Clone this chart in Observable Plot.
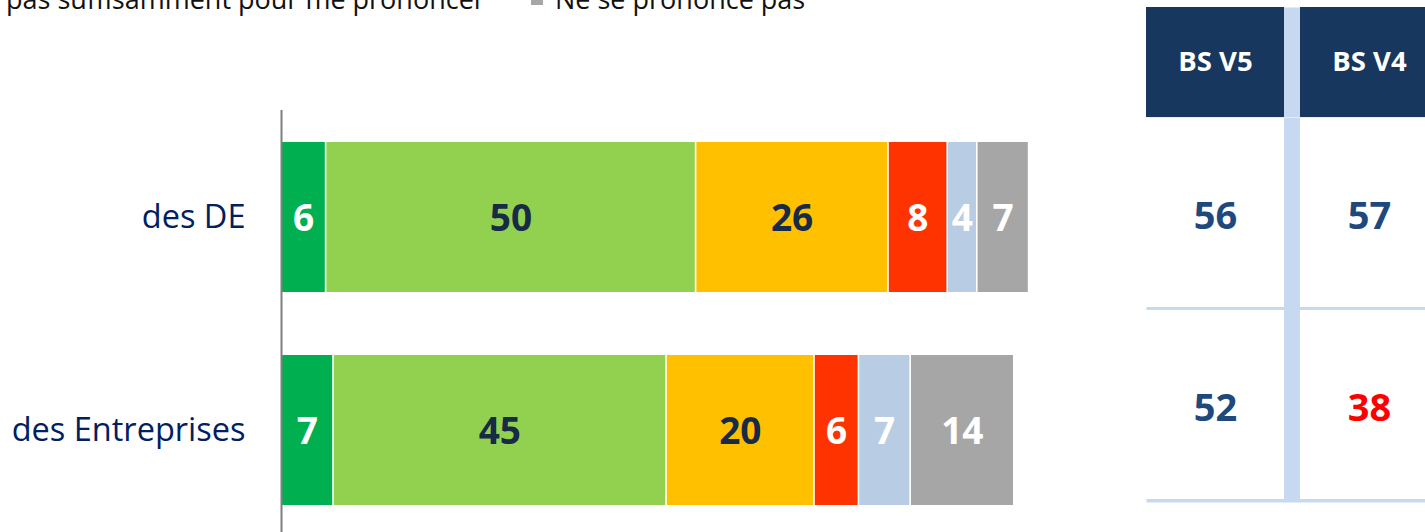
<!DOCTYPE html>
<html>
<head>
<meta charset="utf-8">
<script src="https://cdn.jsdelivr.net/npm/d3@7"></script>
<script src="https://cdn.jsdelivr.net/npm/@observablehq/plot@0.6"></script>
<style>
  html, body { margin: 0; padding: 0; background: #fff; overflow: hidden; }
  #wrap { position: relative; width: 1425px; height: 532px; overflow: hidden; font-family: "Open Sans", sans-serif; }
  #wrap > div, #wrap > svg, #wrap > span { position: absolute; }
  .leg { font-size: 27px; line-height: 27px; color: #111; white-space: nowrap; }
</style>
</head>
<body>
<div id="wrap"></div>
<script>
// ---- data ----
const categories = ["des DE", "des Entreprises"];
const series = [
  "Très satisfaisant",
  "Plutôt satisfaisant",
  "Plutôt pas satisfaisant",
  "Pas du tout satisfaisant",
  "Je ne connais pas suffisamment pour me prononcer",
  "Ne se prononce pas"
];
const valuesDE = [6, 50, 26, 8, 4, 7];
const valuesEntreprises = [7, 45, 20, 6, 7, 14];
const seriesColors = ["#00b050", "#92d050", "#ffc000", "#ff3300", "#b8cce4", "#a6a6a6"];
const labelColors = ["#ffffff", "#172a46", "#172a46", "#ffffff", "#ffffff", "#ffffff"];

const tableColumns = ["BS V5", "BS V4"];
const bsV5 = [56, 52];
const bsV4 = [57, 38];
const bsV4Flag = [false, true];

const legendText1 = "pas suffisamment pour me prononcer";
const legendText2 = "Ne se prononce pas";

// ---- derived tables ----
const rows = [valuesDE, valuesEntreprises];
const data = categories.flatMap((c, i) =>
  series.map((s, j) => ({cat: c, series: s, value: rows[i][j]}))
);
const tableData = categories.flatMap((c, i) => [
  {cat: c, col: tableColumns[0], value: bsV5[i], flag: false},
  {cat: c, col: tableColumns[1], value: bsV4[i], flag: bsV4Flag[i]}
]);

const wrap = document.getElementById("wrap");
const FONT = "Open Sans";

// ---- main bar chart ----
const chart = Plot.plot({
  width: 1140,
  height: 532,
  marginLeft: 282,
  marginRight: 118,
  marginTop: 110,
  marginBottom: 0,
  style: {fontFamily: FONT, background: "transparent"},
  x: {domain: [0, 100], axis: null},
  y: {domain: categories, range: [142, 505], paddingInner: 0.296, paddingOuter: 0, label: null},
  color: {domain: series, range: seriesColors},
  marks: [
    Plot.barX(data, Plot.stackX({x: "value", y: "cat", fill: "series", insetRight: 1.6, order: null})),
    Plot.text(data, Plot.stackX({
      x: "value", y: "cat", z: "series", order: null,
      text: d => String(d.value),
      fill: d => labelColors[series.indexOf(d.series)],
      fontSize: 37, fontWeight: "bold", fontFamily: FONT, dx: -1, dy: 2
    })),
    Plot.axisY({tickSize: 0, tickPadding: 37, fontSize: 32.5, fill: "#002060", label: null, fontFamily: FONT}),
    Plot.ruleX([0], {stroke: "#7f7f7f", strokeWidth: 2, dx: -1})
  ]
});
chart.style.left = "0px";
chart.style.top = "0px";
wrap.appendChild(chart);

// ---- table header ----
const colX = {domain: tableColumns, paddingInner: 16 / 154, paddingOuter: 0, axis: null};
const header = Plot.plot({
  width: 292, height: 117,
  marginTop: 7, marginBottom: 0, marginLeft: 0, marginRight: 0,
  style: {fontFamily: FONT, background: "transparent"},
  x: colX,
  marks: [
    Plot.frame({fill: "#c6d9f1", stroke: null}),
    Plot.cell(tableColumns, {x: d => d, fill: "#17375e"}),
    Plot.text(tableColumns, {x: d => d, text: d => d, fill: "#ffffff", fontSize: 27.5, fontWeight: "bold", fontFamily: FONT})
  ]
});
header.style.left = "1146px";
header.style.top = "0px";
wrap.appendChild(header);

// ---- table body ----
const body = Plot.plot({
  width: 292, height: 415,
  marginTop: 0, marginBottom: 30, marginLeft: 0, marginRight: 0,
  style: {fontFamily: FONT, background: "transparent"},
  x: colX,
  y: {domain: categories, padding: 0, axis: null},
  marks: [
    Plot.frame({fill: "#c6d9f1", stroke: null}),
    Plot.cell(tableData, {x: "col", y: "cat", fill: "#ffffff", insetBottom: 3}),
    Plot.text(tableData, {
      x: "col", y: "cat", text: d => String(d.value),
      fill: d => d.flag ? "#ff0000" : "#1f497d",
      fontSize: 38, fontWeight: "bold", fontFamily: FONT, dy: 2
    })
  ]
});
body.style.left = "1146px";
body.style.top = "117px";
wrap.appendChild(body);

// ---- legend (cut off at top, as in the source slide) ----
const l1 = document.createElement("span");
l1.className = "leg";
l1.textContent = legendText1;
l1.style.left = "6px";
l1.style.top = "-15px";
wrap.appendChild(l1);

const sq = document.createElement("span");
sq.style.left = "531px";
sq.style.top = "-7px";
sq.style.width = "12px";
sq.style.height = "12px";
sq.style.background = seriesColors[5];
wrap.appendChild(sq);

const l2 = document.createElement("span");
l2.className = "leg";
l2.textContent = legendText2;
l2.style.left = "555px";
l2.style.top = "-15px";
wrap.appendChild(l2);
</script>
</body>
</html>
